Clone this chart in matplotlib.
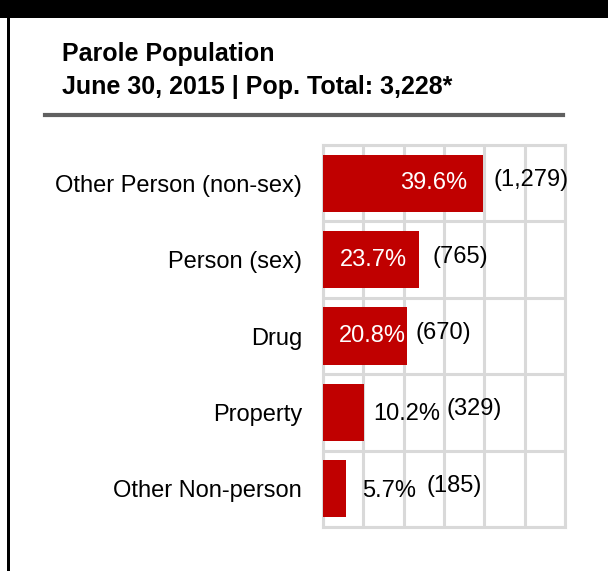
import matplotlib
matplotlib.use("Agg")
import matplotlib.pyplot as plt
from matplotlib.patches import Rectangle
from matplotlib.lines import Line2D

plt.rcParams["font.family"] = ["Liberation Sans", "DejaVu Sans"]

categories = ["Other Person (non-sex)", "Person (sex)", "Drug", "Property", "Other Non-person"]
percents = [39.6, 23.7, 20.8, 10.2, 5.7]
counts = [1279, 765, 670, 329, 185]
# label placement (pixel offsets from bar end)
pct_inside = [True, True, True, False, False]
pct_dx = [-16, -12, -1, 9, 16]
cnt_dx = [11, 14, 9, 82, 81]

W, H = 608, 571
fig = plt.figure(figsize=(W / 100, H / 100), dpi=100)

# black frame: top band and left edge
fig.patches.append(Rectangle((0, 1 - 18 / H), 1, 18 / H, transform=fig.transFigure,
                             facecolor="black", edgecolor="none"))
fig.patches.append(Rectangle((7 / W, 0), 3 / W, 1 - 18 / H, transform=fig.transFigure,
                             facecolor="black", edgecolor="none"))

fig.text(62 / W, 1 - 54 / H, "Parole Population", fontsize=18, fontweight="bold",
         va="center", ha="left")
fig.text(62 / W, 1 - 87 / H, "June 30, 2015 | Pop. Total: 3,228*", fontsize=18,
         fontweight="bold", va="center", ha="left")
fig.lines.append(Line2D([45 / W, 563 / W], [1 - 115 / H, 1 - 115 / H],
                        transform=fig.transFigure, color="#606060", linewidth=3))

ax = fig.add_axes([323 / W, 1 - 527 / H, 242 / W, 382 / H])
y = list(range(len(categories)))
ax.barh(y, percents, height=0.75, color="#c00000", zorder=3)
ax.set_xlim(0, 60)
ax.set_ylim(len(categories) - 0.5, -0.5)

ax.set_xticks([0, 10, 20, 30, 40, 50, 60])
ax.set_yticks([i + 0.5 for i in range(-1, len(categories))], minor=False)
ax.set_yticks(y, minor=True)
ax.set_yticklabels(categories, minor=True, fontsize=17)
ax.set_yticklabels([], minor=False)
ax.set_xticklabels([])
ax.tick_params(axis="both", which="both", length=0)
ax.tick_params(axis="y", which="minor", pad=15)
ax.grid(True, which="major", color="#d9d9d9", linewidth=2.2, zorder=0)
ax.set_axisbelow(True)
for s in ax.spines.values():
    s.set_color("#d9d9d9")
    s.set_linewidth(2.2)

for i, (p, c) in enumerate(zip(percents, counts)):
    if pct_inside[i]:
        ax.annotate(f"{p}%", (p, i), xytext=(pct_dx[i], 0), textcoords="offset pixels",
                    ha="right", va="center", color="white", fontsize=17, zorder=4)
    else:
        ax.annotate(f"{p}%", (p, i), xytext=(pct_dx[i], -2), textcoords="offset pixels",
                    ha="left", va="center", color="black", fontsize=17, zorder=4)
    ax.annotate(f"({c:,})", (p, i), xytext=(cnt_dx[i], 3), textcoords="offset pixels",
                ha="left", va="center", color="black", fontsize=17, zorder=4)

fig.savefig("out.png", dpi=100)
